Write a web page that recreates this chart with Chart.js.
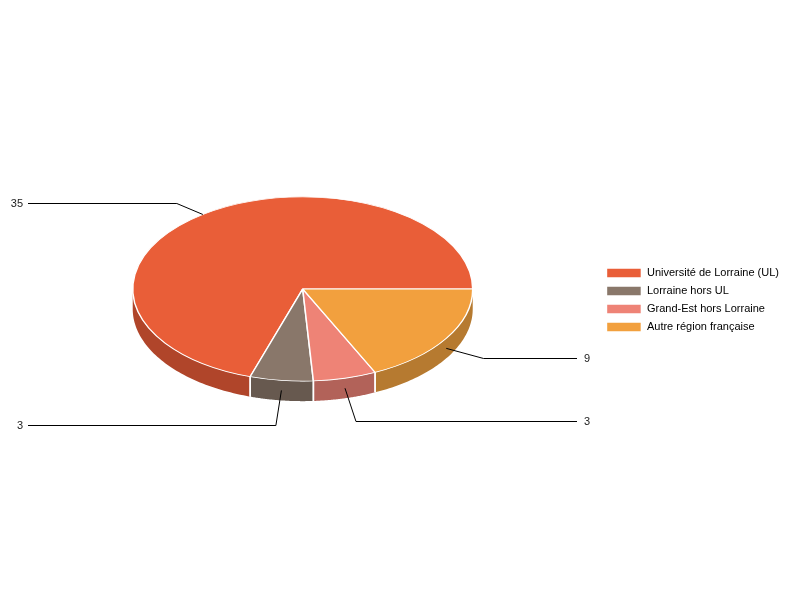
<!DOCTYPE html>
<html>
<head>
<meta charset="utf-8">
<script src="https://cdn.jsdelivr.net/npm/chart.js@4.4.0/dist/chart.umd.min.js"></script>
<style>
  html, body { margin: 0; padding: 0; background: #fff; }
  #wrap { width: 800px; height: 600px; }
</style>
</head>
<body>
<div id="wrap"><canvas id="pieChart"></canvas></div>
<script>
// Données du graphique
const categories = ['Université de Lorraine (UL)', 'Lorraine hors UL', 'Grand-Est hors Lorraine', 'Autre région française'];
const values = [35, 3, 3, 9];
const topColors = ['#E95E38', '#89776A', '#EE8376', '#F2A03E'];
const sideColors = ['#B0452A', '#67594F', '#B26259', '#B67A30'];

// Réglages de la vue 3D
const TILT = 0.542;   // rapport ry / rx
const DEPTH = 20;     // épaisseur du camembert
const LIFT = 11;      // décalage vertical de la face supérieure
const FONT = '11px "Liberation Sans", Arial, sans-serif';

function rimPoint(cx, cyTop, r, t) {
    return { x: cx + r * Math.cos(t), y: cyTop - r * TILT * Math.sin(t) };
}

const pie3d = {
    id: 'pie3d',
    beforeDatasetsDraw(chart) {
        const ctx = chart.ctx;
        const arcs = chart.getDatasetMeta(0).data;
        if (!arcs.length) return;
        const cx = arcs[0].x, cy = arcs[0].y, r = arcs[0].outerRadius;
        const cyTop = cy - LIFT;

        // Parois latérales (seulement la moitié avant)
        arcs.forEach((arc, i) => {
            const lo = Math.max(arc.startAngle, Math.PI);
            const hi = Math.min(arc.endAngle, 2 * Math.PI);
            if (lo >= hi) return;
            const steps = 60;
            ctx.beginPath();
            for (let s = 0; s <= steps; s++) {
                const p = rimPoint(cx, cyTop, r, lo + (hi - lo) * s / steps);
                if (s === 0) ctx.moveTo(p.x, p.y); else ctx.lineTo(p.x, p.y);
            }
            for (let s = steps; s >= 0; s--) {
                const p = rimPoint(cx, cyTop, r, lo + (hi - lo) * s / steps);
                ctx.lineTo(p.x, p.y + DEPTH);
            }
            ctx.closePath();
            ctx.fillStyle = sideColors[i];
            ctx.fill();
        });

        // Arêtes blanches entre les parts
        ctx.strokeStyle = '#fff';
        ctx.lineWidth = 1.5;
        arcs.forEach(arc => {
            [arc.startAngle, arc.endAngle].forEach(t => {
                if (Math.sin(t) < -0.001) {
                    const p = rimPoint(cx, cyTop, r, t);
                    ctx.beginPath();
                    ctx.moveTo(p.x, p.y);
                    ctx.lineTo(p.x, p.y + DEPTH);
                    ctx.stroke();
                }
            });
        });

        // Face supérieure : on écrase (et retourne) le repère avant le dessin des arcs
        ctx.save();
        ctx.translate(cx, cyTop);
        ctx.scale(1, -TILT);
        ctx.translate(-cx, -cy);
    },
    afterDatasetsDraw(chart) {
        chart.ctx.restore();
    },
    afterDraw(chart) {
        const ctx = chart.ctx;
        const arcs = chart.getDatasetMeta(0).data;
        if (!arcs.length) return;
        const cx = arcs[0].x, cy = arcs[0].y, r = arcs[0].outerRadius;
        const cyTop = cy - LIFT;

        ctx.save();
        ctx.font = FONT;
        ctx.textBaseline = 'middle';
        ctx.lineWidth = 1;
        arcs.forEach((arc, i) => {
            const mid = (arc.startAngle + arc.endAngle) / 2;
            const c = Math.cos(mid), s = Math.sin(mid);
            const front = s < 0;
            const drop = front ? DEPTH / 2 : 0;
            const p = rimPoint(cx, cyTop, r, mid);
            const k = front ? 1 + 0.38 * Math.abs(s) : 1.15;
            const ex = cx + r * 1.26 * c;
            const ey = Math.round(cyTop - r * TILT * k * s + drop) + 0.5;
            const left = c < 0;
            const endX = left ? 28 : 577;

            ctx.strokeStyle = '#000';
            ctx.beginPath();
            ctx.moveTo(p.x, p.y + drop);
            ctx.lineTo(ex, ey);
            ctx.lineTo(endX, ey);
            ctx.stroke();

            ctx.fillStyle = '#222';
            ctx.textAlign = left ? 'right' : 'left';
            ctx.fillText(String(values[i]), left ? 23 : 584, ey);
        });
        ctx.restore();
    }
};

document.addEventListener('DOMContentLoaded', function() {
    const canvas = document.getElementById('pieChart');
    new Chart(canvas, {
        type: 'pie',
        data: {
            labels: categories,
            datasets: [{
                data: values,
                backgroundColor: topColors,
                borderColor: '#fff',
                borderWidth: 1.5,
                radius: 170
            }]
        },
        options: {
            responsive: true,
            maintainAspectRatio: false,
            animation: false,
            events: [],
            rotation: 90,
            layout: {
                padding: { left: 6, right: 11, top: 0, bottom: 0 }
            },
            plugins: {
                tooltip: { enabled: false },
                legend: {
                    position: 'right',
                    labels: {
                        boxWidth: 35,
                        boxHeight: 10,
                        padding: 7,
                        color: '#000',
                        font: { family: '"Liberation Sans", Arial, sans-serif', size: 11 }
                    }
                }
            }
        },
        plugins: [pie3d]
    });
});
</script>
</body>
</html>
